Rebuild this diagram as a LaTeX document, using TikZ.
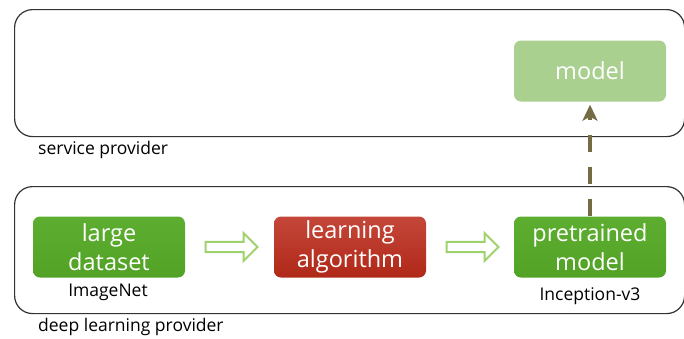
\documentclass[tikz,border=0pt]{standalone}
\usepackage{fontspec}
\setmainfont{Open Sans}
\usetikzlibrary{shapes.arrows,arrows.meta}
\definecolor{gtop}{HTML}{5DAE30}
\definecolor{gbot}{HTML}{52A226}
\definecolor{rtop}{HTML}{C4473A}
\definecolor{rbot}{HTML}{B02818}
\definecolor{lightg}{HTML}{A9D08E}
\definecolor{arrg}{HTML}{9FD26E}
\definecolor{olive}{HTML}{756B45}
\definecolor{frame}{HTML}{333333}
\tikzset{
  region/.style={draw=frame, line width=1.2pt, rounded corners=18pt},
  boxbase/.style={rounded corners=7pt, minimum width=152pt, minimum height=61pt, align=center, text=white, font=\fontsize{23.5}{29}\selectfont, inner sep=0pt},
  gbox/.style={boxbase, top color=gtop, bottom color=gbot},
  rbox/.style={boxbase, top color=rtop, bottom color=rbot},
  lbox/.style={boxbase, fill=lightg},
  caption/.style={font=\fontsize{17.5}{20}\selectfont, text=black, inner sep=0pt},
  hollow/.style={single arrow, draw=arrg, fill=white, line width=2pt, minimum width=28pt, single arrow head extend=7pt, single arrow tip angle=90, minimum height=52pt, inner sep=3pt, shape border rotate=0},
  dasharrow/.style={draw=olive, line width=4pt, dash pattern=on 17pt off 15pt, -{Stealth[length=16pt,width=15pt,inset=4pt]}}
}
\begin{document}
\begin{tikzpicture}[x=1pt,y=-1pt]
\useasboundingbox (0,0) rectangle (684,338);
\node[region, minimum width=670pt, minimum height=127pt, anchor=north west] (sp) at (14,9) {};
\node[region, minimum width=670pt, minimum height=127pt, anchor=north west] (dl) at (14,186) {};
\node[caption, anchor=west] (splabel) at (38,150) {service provider};
\node[caption, anchor=west] (dllabel) at (38,327) {deep learning provider};
\node[lbox] (model) at (590,71) {model};
\node[gbox] (data) at (109,247) {large\\dataset};
\node[rbox] (algo) at (350,247) {learning\\algorithm};
\node[gbox] (pre) at (590,247) {pretrained\\model};
\node[caption] (imgnet) at (108,292) {ImageNet};
\node[caption] (incep) at (590,296) {Inception-v3};
\node[hollow] (a1) at (229,247) {};
\node[hollow] (a2) at (470,247) {};
\draw[dasharrow, line cap=butt] (pre.north) -- ([yshift=-3pt]model.south);
\end{tikzpicture}
\end{document}
